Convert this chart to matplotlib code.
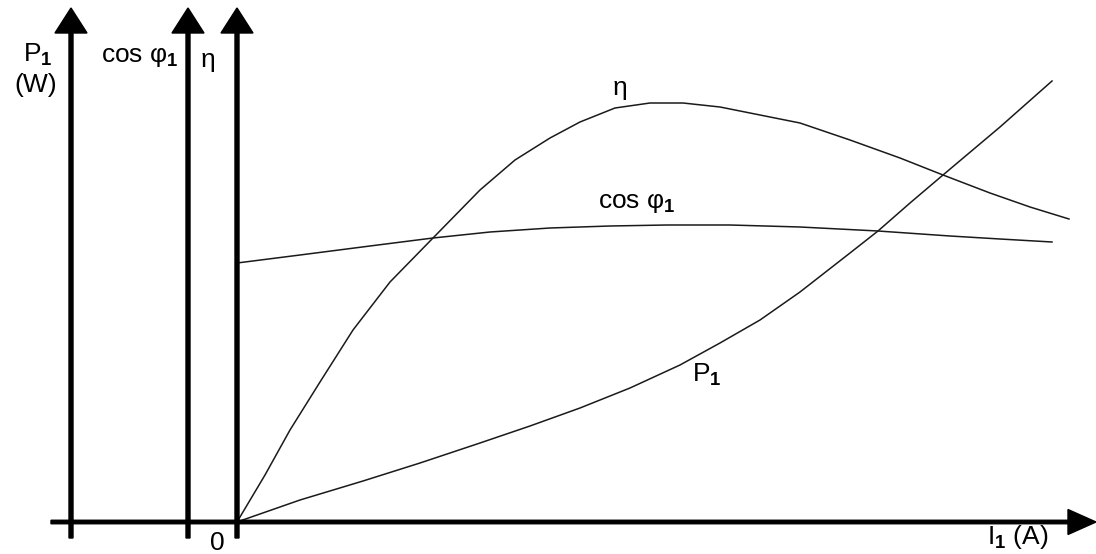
import numpy as np
import matplotlib.pyplot as plt

plt.rcParams['font.family'] = ['Liberation Sans', 'DejaVu Sans']
plt.rcParams['mathtext.fontset'] = 'custom'
plt.rcParams['mathtext.rm'] = 'Liberation Sans'
plt.rcParams['mathtext.it'] = 'Liberation Sans'
plt.rcParams['mathtext.bf'] = 'Liberation Sans:bold'

# curves (arbitrary units, common scale)
i_eta = [0, 0.28, 0.53, 0.83, 1.16, 1.53, 1.96, 2.43, 2.78, 3.13, 3.43, 3.78, 4.13,
         4.46, 4.83, 5.23, 5.63, 6.13, 6.63, 7.06, 7.53, 7.93, 8.32]
eta = [0, 0.47, 0.92, 1.40, 1.92, 2.40, 2.84, 3.32, 3.62, 3.84, 4.00, 4.14, 4.19,
       4.19, 4.15, 4.07, 3.99, 3.82, 3.64, 3.47, 3.29, 3.15, 3.03]

i_cos = [0, 0.63, 1.33, 1.96, 2.53, 3.13, 3.73, 4.30, 4.93, 5.63, 6.41, 7.13, 7.63, 8.15]
cos_phi = [2.59, 2.67, 2.76, 2.84, 2.90, 2.94, 2.96, 2.97, 2.97, 2.95, 2.91, 2.86, 2.83, 2.80]

i_p = [0, 0.63, 1.26, 1.83, 2.43, 2.93, 3.43, 3.93, 4.43, 4.83, 5.23, 5.63, 6.13,
       6.41, 6.73, 7.06, 7.63, 8.15]
p1 = [0, 0.22, 0.41, 0.59, 0.79, 0.96, 1.14, 1.34, 1.57, 1.79, 2.02, 2.30, 2.69,
      2.91, 3.19, 3.47, 3.95, 4.41]

fig = plt.figure(figsize=(10.96, 5.54), dpi=100)
ax = fig.add_axes([0, 0, 1, 1])
ax.set_xlim(-2.37, 8.59)
ax.set_ylim(-0.32, 5.22)
ax.axis('off')

ink = '#1a1a1a'
ax.plot(i_eta, eta, color=ink, lw=1.1)
ax.plot(i_cos, cos_phi, color=ink, lw=1.1)
ax.plot(i_p, p1, color=ink, lw=1.1)

# axes drawn as arrows
for xa in [-1.66, -0.49, 0.0]:
    ax.arrow(xa, -0.16, 0, 5.30, width=0.04, head_width=0.32, head_length=0.25,
             length_includes_head=True, color='black', zorder=3)
ax.arrow(-1.86, 0.0, 10.45, 0, width=0.035, head_width=0.25, head_length=0.28,
         length_includes_head=True, color='black', zorder=3)

fs = 19
ax.text(-1.99, 4.67, r'P$_\mathbf{1}$', fontsize=fs, ha='center', va='center')
ax.text(-2.01, 4.37, '(W)', fontsize=fs, ha='center', va='center')
ax.text(-0.97, 4.65, r'cos φ$_\mathbf{1}$', fontsize=fs, ha='center', va='center')
ax.text(-0.29, 4.62, 'η', fontsize=fs, ha='center', va='center')
ax.text(3.83, 4.34, 'η', fontsize=fs, ha='center', va='center')
ax.text(4.0, 3.19, r'cos φ$_\mathbf{1}$', fontsize=fs, ha='center', va='center')
ax.text(4.70, 1.47, r'P$_\mathbf{1}$', fontsize=fs, ha='center', va='center')
ax.text(-0.20, -0.21, '0', fontsize=fs, ha='center', va='center')
ax.text(7.81, -0.15, r'I$_\mathbf{1}$ (A)', fontsize=fs, ha='center', va='center')

fig.savefig('out.png', dpi=100)
